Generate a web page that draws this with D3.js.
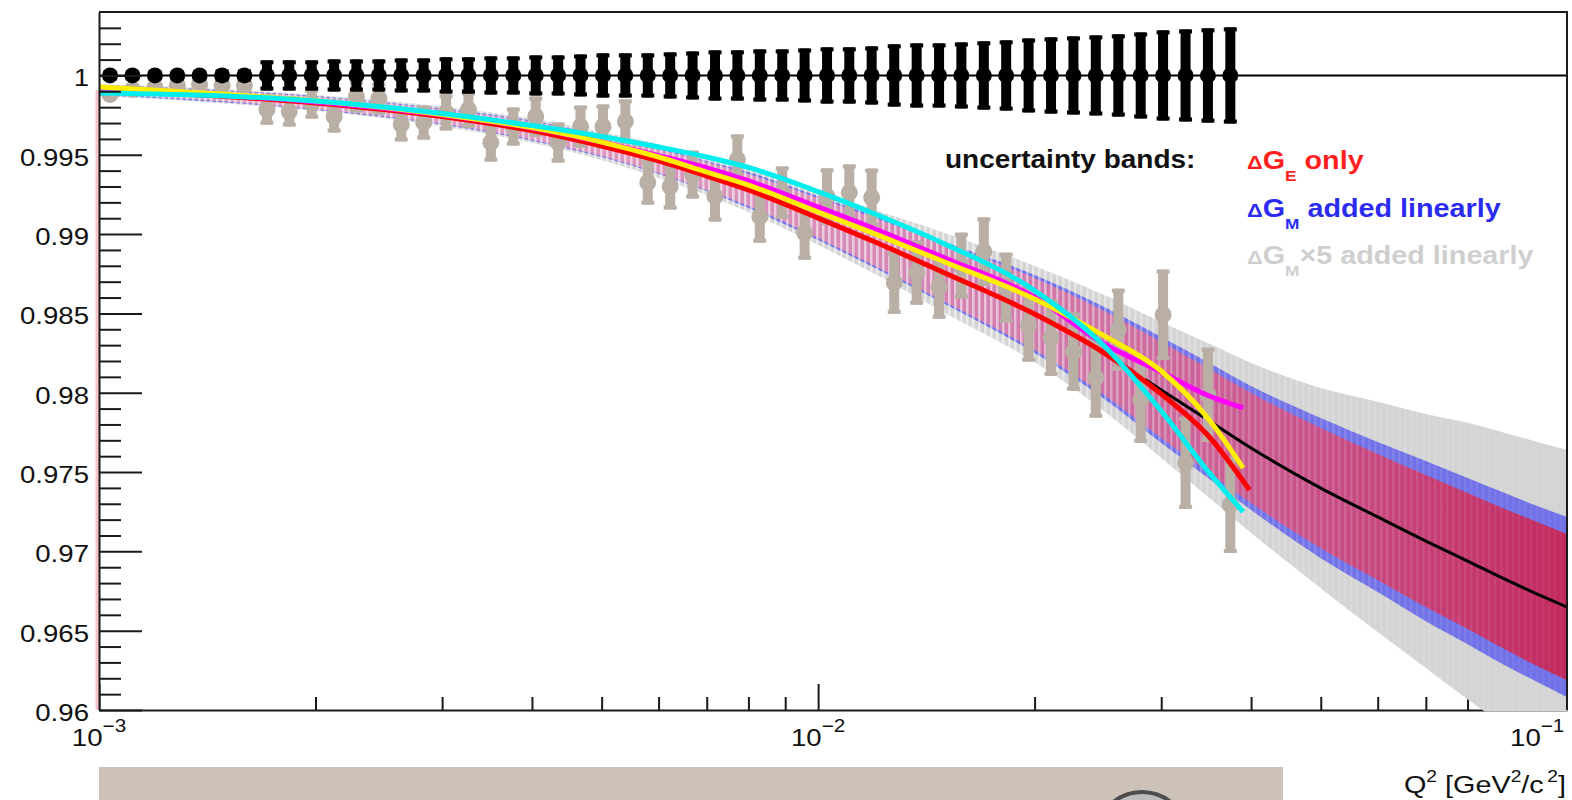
<!DOCTYPE html>
<html><head><meta charset="utf-8">
<script src="https://cdn.jsdelivr.net/npm/d3@7"></script>
<style>
body{margin:0;background:#fff}
svg{display:block}
text{font-family:"Liberation Sans",Arial,Helvetica,sans-serif}
</style>
</head><body>
<svg id="c" width="1572" height="800"></svg>
<script>
// ---------------- data ----------------
const q2Points = [0.001036,0.001113,0.001196,0.001285,0.001380,0.001483,0.001593,0.001712,0.001839,0.001976,
  0.002123,0.002280,0.002450,0.002632,0.002828,0.003038,0.003264,0.003507,0.003768,0.004049,
  0.004350,0.004673,0.005021,0.005394,0.005796,0.006227,0.006690,0.007188,0.007722,0.008297,
  0.008914,0.009577,0.01029,0.01105,0.01187,0.01276,0.01371,0.01473,0.01582,0.01700,
  0.01826,0.01962,0.02108,0.02265,0.02433,0.02615,0.02809,0.03018,0.03243,0.03484,0.03743];
const ratioPoints = [0.99880,0.99912,0.99924,0.99937,0.99943,0.99937,0.99937,0.99785,0.99773,0.99823,
  0.99741,0.99868,0.99855,0.99691,0.99703,0.99767,0.99785,0.99577,0.99678,0.99741,
  0.99577,0.99678,0.99678,0.99710,0.99325,0.99300,0.99375,0.99237,0.99470,0.99110,
  0.99262,0.99009,0.99237,0.99262,0.99230,0.98694,0.98757,0.98669,0.98801,0.98890,
  0.98662,0.98429,0.98347,0.98259,0.98095,0.98397,0.97956,0.98492,0.97558,0.97987,0.97293];
const pointErrors = [0.00032,0.00032,0.00032,0.00032,0.00032,0.00038,0.00038,
  0.00095,0.00095,0.00095,0.00101,0.00101,0.00101,0.00107,0.00107,0.00114,0.00114,0.00120,0.00120,0.00126,0.00126,0.00132,
  0.00139,0.00139,0.00139,0.00145,0.00151,0.00158,0.00158,0.00164,0.00164,0.00170,0.00177,0.00177,0.00183,0.00196,
  0.00202,0.00202,0.00208,0.00215,0.00221,0.00233,0.00240,0.00246,0.00252,0.00259,0.00271,0.00284,0.00290,0.00297,0.00303];

const curveQ2 = [0.001,0.0015,0.002,0.003,0.004,0.005,0.006,0.007,0.008,0.01,0.012,0.015,0.02,0.025,0.03,0.035,0.04,0.05,0.06,0.07,0.08,0.09,0.1,0.11];
const centralFit = [0.99908,0.99868,0.99827,0.99741,0.99652,0.99555,0.99461,0.99366,0.99278,0.99101,0.98950,0.98755,0.98496,0.98250,0.98017,0.97822,0.97652,0.97399,0.97217,0.97065,0.96939,0.96826,0.96731,0.96649];
const bandGE = [0.00025,0.00032,0.00038,0.00044,0.00057,0.00063,0.00076,0.00088,0.00101,0.00126,0.00151,0.00183,0.00227,0.00265,0.00303,0.00328,0.00347,0.00379,0.00397,0.00416,0.00429,0.00442,0.00454,0.00461];
const bandGM = [0.00032,0.00038,0.00044,0.00050,0.00063,0.00069,0.00082,0.00095,0.00114,0.00139,0.00164,0.00196,0.00246,0.00290,0.00334,0.00366,0.00391,0.00442,0.00473,0.00505,0.00524,0.00543,0.00555,0.00568];
const bandGM5 = [0.00038,0.00044,0.00050,0.00063,0.00076,0.00088,0.00107,0.00120,0.00139,0.00170,0.00202,0.00252,0.00303,0.00366,0.00429,0.00486,0.00536,0.00631,0.00726,0.00801,0.00871,0.00921,0.00959,0.00991];

const fitQ2 = [0.001,0.0015,0.002,0.003,0.004,0.005,0.006,0.007,0.008,0.01,0.012,0.015,0.02,0.025,0.03,0.035,0.039];
const fitQ2Red = [0.001,0.0015,0.002,0.003,0.004,0.005,0.006,0.007,0.008,0.01,0.012,0.015,0.02,0.025,0.03,0.035,0.0398];
const fitRed = [0.99908,0.99868,0.99827,0.99741,0.99652,0.99555,0.99461,0.99366,0.99278,0.99101,0.98950,0.98755,0.98496,0.98250,0.97992,0.97721,0.97387];
const fitMagenta = [0.99915,0.99874,0.99833,0.99751,0.99669,0.99580,0.99495,0.99417,0.99335,0.99171,0.99032,0.98849,0.98603,0.98307,0.98131,0.97979,0.97904];
const fitYellow = [0.99927,0.99881,0.99840,0.99754,0.99671,0.99580,0.99486,0.99391,0.99309,0.99139,0.99001,0.98824,0.98591,0.98358,0.98137,0.97828,0.97525];
const fitCyan = [0.99889,0.99870,0.99839,0.99760,0.99684,0.99615,0.99549,0.99486,0.99420,0.99268,0.99127,0.98938,0.98644,0.98295,0.97885,0.97495,0.97249];

const yMajorTicks = [0.96,0.965,0.97,0.975,0.98,0.985,0.99,0.995,1.0];
const yTickLabels = ["0.96","0.965","0.97","0.975","0.98","0.985","0.99","0.995","1"];
const yMinorTicks = [0.961,0.962,0.963,0.964,0.966,0.967,0.968,0.969,0.971,0.972,0.973,0.974,0.976,0.977,0.978,0.979,
  0.981,0.982,0.983,0.984,0.986,0.987,0.988,0.989,0.991,0.992,0.993,0.994,0.996,0.997,0.998,0.999,1.001,1.002,1.003];
const xMajorTicks = [0.001,0.01,0.1];
const xTickExponents = ["\u22123","\u22122","\u22121"];
const xMinorTicks = [0.002,0.003,0.004,0.005,0.006,0.007,0.008,0.009,0.02,0.03,0.04,0.05,0.06,0.07,0.08,0.09];

const legendTitle = "uncertainty bands:";
const legendItems = [
  {sub:"E", pre:"", rest:" only", color:"#ff1f1f"},
  {sub:"M", pre:"", rest:" added linearly", color:"#2b2bf0"},
  {sub:"M", pre:"\u00d75", rest:" added linearly", color:"#cfcfcf"}
];

// ---------------- drawing ----------------
const svg = d3.select("#c");
const X0 = 99, X1 = 1567, Y0 = 710, Y1 = 12;
const x = d3.scaleLog().domain([0.001, 0.11]).range([X0, X1]);
const y = d3.scaleLinear().domain([0.96, 1.004]).range([Y0, Y1]);

svg.append("rect").attr("width",1572).attr("height",800).attr("fill","#fff");

// slide decoration below the plot
svg.append("rect").attr("x",99).attr("y",767).attr("width",1184).attr("height",40).attr("fill","#cdc2b8");
svg.append("circle").attr("cx",1142).attr("cy",838).attr("r",46).attr("fill","#bcbcbc").attr("stroke","#4d4d4d").attr("stroke-width",4);

const defs = svg.append("defs");
defs.append("clipPath").attr("id","plotclip").append("rect")
  .attr("x",X0).attr("y",Y1).attr("width",X1-X0).attr("height",Y0-Y1+1.5);
const grad = defs.append("linearGradient").attr("id","pinkgrad")
  .attr("gradientUnits","userSpaceOnUse").attr("x1",X0).attr("x2",X1).attr("y1",0).attr("y2",0);
[[0,"#e2a9c9"],[0.45,"#d991bb"],[0.62,"#d27fae"],[0.72,"#cc689c"],[0.82,"#c8528a"],[0.92,"#c53a70"],[1,"#c22a5f"]]
  .forEach(s => grad.append("stop").attr("offset",s[0]).attr("stop-color",s[1]));
// histogram-like stripe texture of the bands
const pat = defs.append("pattern").attr("id","stripes").attr("patternUnits","userSpaceOnUse")
  .attr("x",0).attr("y",0).attr("width",6).attr("height",10);
pat.append("rect").attr("x",0).attr("y",0).attr("width",2.5).attr("height",10).attr("fill","#fff");
const fade = defs.append("linearGradient").attr("id","fadegrad")
  .attr("gradientUnits","userSpaceOnUse").attr("x1",X0).attr("x2",X1).attr("y1",0).attr("y2",0);
[[0,"#999"],[0.6,"#8a8a8a"],[0.78,"#2e2e2e"],[1,"#0a0a0a"]]
  .forEach(s => fade.append("stop").attr("offset",s[0]).attr("stop-color",s[1]));
const mask = defs.append("mask").attr("id","fademask").attr("maskUnits","userSpaceOnUse")
  .attr("x",0).attr("y",0).attr("width",1572).attr("height",800);
mask.append("rect").attr("width",1572).attr("height",800).attr("fill","url(#fadegrad)");

// x axis (drawn before bands, bands overlap it at the bottom right)
const gxMin = svg.append("g").attr("transform",`translate(0,${Y0})`)
  .call(d3.axisBottom(x).tickValues(xMinorTicks).tickSize(-13).tickSizeOuter(0).tickFormat(""));
const gxMaj = svg.append("g").attr("transform",`translate(0,${Y0})`)
  .call(d3.axisBottom(x).tickValues(xMajorTicks).tickSize(-26).tickSizeOuter(0).tickFormat(""));
[gxMin,gxMaj].forEach(g=>{g.selectAll("path,line").attr("stroke","#1a1a1a").attr("stroke-width",2);});
gxMaj.select(".domain").remove();

// pink artifact strip at left edge
svg.append("rect").attr("x",95.5).attr("y",y(0.99908)).attr("width",3.5).attr("height",Y0-y(0.99908)).attr("fill","#f5c3cb");

const plot = svg.append("g").attr("clip-path","url(#plotclip)");

function bandArea(errs){
  return d3.area()
    .x((d,i)=>x(curveQ2[i]))
    .y0((d,i)=>y(centralFit[i]-errs[i]))
    .y1((d,i)=>y(centralFit[i]+errs[i]))
    .curve(d3.curveMonotoneX);
}
plot.append("path").attr("d",bandArea(bandGM5)(centralFit)).attr("fill","#d4d4d4");
plot.append("path").attr("d",bandArea(bandGM)(centralFit)).attr("fill","#7171e8");
plot.append("path").attr("d",bandArea(bandGE)(centralFit)).attr("fill","url(#pinkgrad)");
plot.append("path").attr("d",bandArea(bandGM5)(centralFit)).attr("fill","url(#stripes)").attr("mask","url(#fademask)");

// central fit line
plot.append("path")
  .attr("d", d3.line().x((d,i)=>x(curveQ2[i])).y(d=>y(d)).curve(d3.curveMonotoneX)(centralFit))
  .attr("fill","none").attr("stroke","#000").attr("stroke-width",3);

// data points with errors
function drawPoints(g, qs, vals, errs, color, bw, cw, r){
  const pts = g.append("g");
  qs.forEach((q,i)=>{
    const cx = x(q), cy = y(vals[i]);
    const top = y(vals[i]+errs[i]), bot = y(vals[i]-errs[i]);
    pts.append("rect").attr("x",cx-bw/2).attr("y",top).attr("width",bw).attr("height",bot-top).attr("fill",color);
    pts.append("rect").attr("x",cx-cw/2).attr("y",top).attr("width",cw).attr("height",4).attr("fill",color);
    pts.append("rect").attr("x",cx-cw/2).attr("y",bot-4).attr("width",cw).attr("height",4).attr("fill",color);
    pts.append("circle").attr("cx",cx).attr("cy",cy).attr("r",r).attr("fill",color);
  });
}
drawPoints(plot, q2Points, ratioPoints, pointErrors, "#b9afa5", 10, 13, 8.5);

// fit curves
function drawCurve(qs, vals, color, w){
  plot.append("path")
    .attr("d", d3.line().x((d,i)=>x(qs[i])).y(d=>y(d)).curve(d3.curveMonotoneX)(vals))
    .attr("fill","none").attr("stroke",color).attr("stroke-width",w).attr("stroke-linecap","butt");
}
drawCurve(fitQ2Red, fitRed, "#ff0000", 5);
drawCurve(fitQ2, fitMagenta, "#ff00ff", 5);
drawCurve(fitQ2, fitYellow, "#ffee00", 5);
drawCurve(fitQ2, fitCyan, "#00eeee", 5);

// reference line at 1 and reference points
plot.append("line").attr("x1",X0).attr("x2",X1).attr("y1",y(1)).attr("y2",y(1)).attr("stroke","#000").attr("stroke-width",2);
drawPoints(plot, q2Points, q2Points.map(()=>1), pointErrors, "#000", 10, 13, 8);

// y axis ticks
const gyMin = svg.append("g").attr("transform",`translate(${X0},0)`)
  .call(d3.axisLeft(y).tickValues(yMinorTicks).tickSize(-22).tickSizeOuter(0).tickFormat(""));
const gyMaj = svg.append("g").attr("transform",`translate(${X0},0)`)
  .call(d3.axisLeft(y).tickValues(yMajorTicks).tickSize(-43).tickSizeOuter(0).tickFormat(""));
[gyMin,gyMaj].forEach(g=>{g.selectAll("path,line").attr("stroke","#1a1a1a").attr("stroke-width",2);});
gyMaj.select(".domain").remove();

// frame top/right
svg.append("path").attr("d",`M${X0},${Y1}H${X1}V${Y0}`).attr("fill","none").attr("stroke","#1a1a1a").attr("stroke-width",2);

// y labels
yMajorTicks.forEach((v,i)=>{
  svg.append("g").attr("transform",`translate(89,${y(v)+11}) scale(1.15,1)`)
    .append("text").attr("text-anchor","end").attr("font-size",24).attr("fill","#111").text(yTickLabels[i]);
});
// x labels
xMajorTicks.forEach((v,i)=>{
  const t = svg.append("g").attr("transform",`translate(${x(v)},746) scale(1.15,1)`)
    .append("text").attr("text-anchor","middle").attr("font-size",24).attr("fill","#111");
  t.append("tspan").text("10");
  t.append("tspan").attr("dy",-14).attr("font-size",18).text(xTickExponents[i]);
});
// x title
{
  const t = svg.append("g").attr("transform",`translate(1566,793) scale(1.2,1)`)
    .append("text").attr("text-anchor","end").attr("font-size",24).attr("fill","#111");
  t.append("tspan").text("Q");
  t.append("tspan").attr("dy",-11).attr("font-size",16).text("2");
  t.append("tspan").attr("dy",11).text(" [GeV");
  t.append("tspan").attr("dy",-11).attr("font-size",16).text("2");
  t.append("tspan").attr("dy",11).text("/c");
  t.append("tspan").attr("dy",-11).attr("dx",3).attr("font-size",16).text("2");
  t.append("tspan").attr("dy",11).text("]");
}

// legend
svg.append("g").attr("transform","translate(945,168) scale(1.12,1)")
  .append("text").attr("font-size",25).attr("font-weight","bold").attr("fill","#111").text(legendTitle);
legendItems.forEach((it,i)=>{
  const t = svg.append("g").attr("transform",`translate(1247,${169+i*47.5}) scale(1.15,1)`)
    .append("text").attr("font-size",25).attr("font-weight","bold").attr("fill",it.color);
  t.append("tspan").attr("font-size",19).text("\u0394");
  t.append("tspan").text("G");
  t.append("tspan").attr("dy",12).attr("font-size",15).text(it.sub);
  t.append("tspan").attr("dy",-12).text(it.pre + it.rest);
});
</script>
</body></html>
